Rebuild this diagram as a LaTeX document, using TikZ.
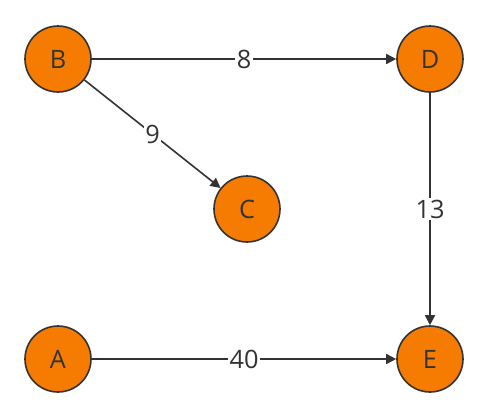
\documentclass[tikz,border=0pt]{standalone}
\usepackage{fontspec}
\setmainfont{Open Sans}
\usetikzlibrary{arrows.meta}
\definecolor{nodeorange}{HTML}{F57C00}
\definecolor{inkgray}{HTML}{333333}
\begin{document}
\begin{tikzpicture}[x=0.75pt,y=-0.75pt,
  vertex/.style={circle,draw=inkgray,line width=1.6pt*0.75,fill=nodeorange,minimum size=66*0.75pt,inner sep=0pt,text=inkgray,font=\fontsize{19}{22}\selectfont},
  edge/.style={draw=inkgray,line width=1.6pt*0.75,-{Triangle[length=7.5pt,width=7.5pt]}},
  wlabel/.style={fill=white,inner sep=1pt,text=inkgray,font=\fontsize{19}{22}\selectfont}]
\useasboundingbox (0,0) rectangle (487,419);
\node[vertex] (B) at (58,59) {B};
\node[vertex] (D) at (430,59) {D};
\node[vertex] (C) at (247,209) {C};
\node[vertex] (A) at (58,359) {A};
\node[vertex] (E) at (430,359) {E};
\draw[edge] (B) -- node[wlabel] {8} (D);
\draw[edge] (B) -- node[wlabel] {9} (C);
\draw[edge] (D) -- node[wlabel] {13} (E);
\draw[edge] (A) -- node[wlabel] {40} (E);
\end{tikzpicture}
\end{document}
